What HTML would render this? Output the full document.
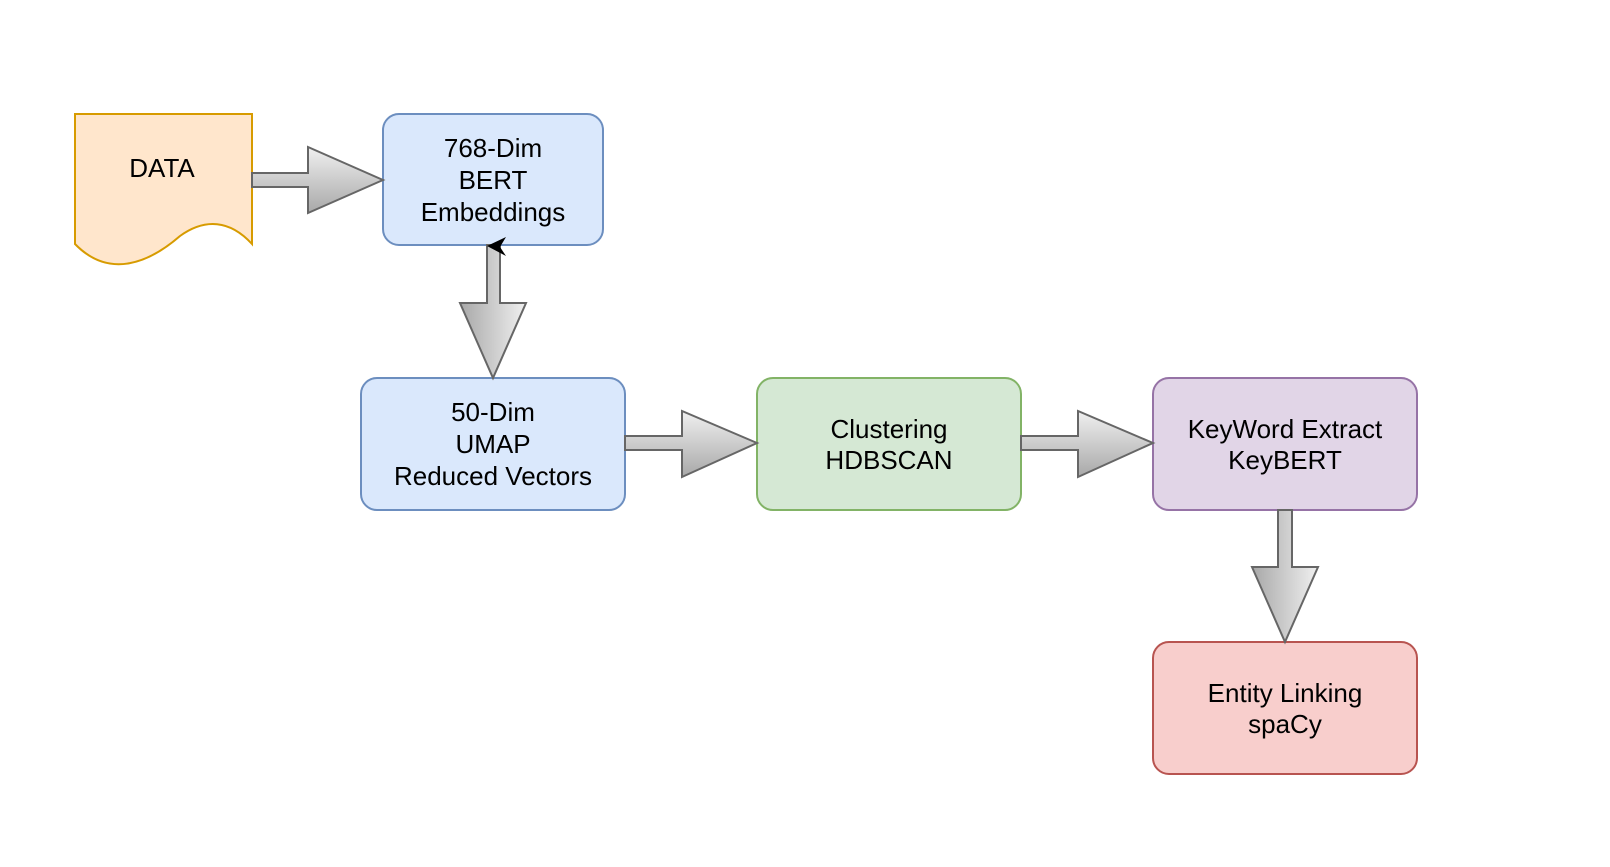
<!DOCTYPE html>
<html><head><meta charset="utf-8"><style>
html,body{margin:0;padding:0;background:#fff;}
svg{display:block;}
text{font-family:"Liberation Sans",sans-serif;font-size:26px;fill:#000;text-anchor:middle;}
</style></head><body>
<svg width="1610" height="867" viewBox="0 0 1610 867" xmlns="http://www.w3.org/2000/svg">
<defs>
<linearGradient id="gv" x1="0" y1="0" x2="0" y2="1"><stop offset="0" stop-color="#f0f0f0"/><stop offset="1" stop-color="#a8a8a8"/></linearGradient>
<linearGradient id="gh" x1="0" y1="0" x2="1" y2="0"><stop offset="0" stop-color="#a8a8a8"/><stop offset="1" stop-color="#f0f0f0"/></linearGradient>
</defs>
<path d="M75,114 H252 V244 C230,220 205,218 180,236 C150,262 110,280 75,244 Z" fill="#ffe6cc" stroke="#d79b00" stroke-width="2"/>
<text x="162" y="177">DATA</text>
<rect x="383" y="114" width="220" height="131" rx="16" fill="#dae8fc" stroke="#6c8ebf" stroke-width="2"/>
<text x="493" y="157">768-Dim</text><text x="493" y="189">BERT</text><text x="493" y="221">Embeddings</text>
<rect x="361" y="378" width="264" height="132" rx="16" fill="#dae8fc" stroke="#6c8ebf" stroke-width="2"/>
<text x="493" y="421">50-Dim</text><text x="493" y="453">UMAP</text><text x="493" y="485">Reduced Vectors</text>
<rect x="757" y="378" width="264" height="132" rx="16" fill="#d5e8d4" stroke="#82b366" stroke-width="2"/>
<text x="889" y="438">Clustering</text><text x="889" y="469">HDBSCAN</text>
<rect x="1153" y="378" width="264" height="132" rx="16" fill="#e1d5e7" stroke="#9673a6" stroke-width="2"/>
<text x="1285" y="438">KeyWord Extract</text><text x="1285" y="469">KeyBERT</text>
<rect x="1153" y="642" width="264" height="132" rx="16" fill="#f8cecc" stroke="#b85450" stroke-width="2"/>
<text x="1285" y="702">Entity Linking</text><text x="1285" y="733">spaCy</text>
<path d="M252,173 H308 V147 L383,180 L308,213 V187 H252 Z" fill="url(#gv)" stroke="#666" stroke-width="2"/>
<path d="M625,436 H682 V411 L757,443 L682,477 V450 H625 Z" fill="url(#gv)" stroke="#666" stroke-width="2"/>
<path d="M1021,436 H1078 V411 L1153,443 L1078,477 V450 H1021 Z" fill="url(#gv)" stroke="#666" stroke-width="2"/>
<path d="M487,245 V303 H460 L493,378 L526,303 H500 V245 Z" fill="url(#gh)" stroke="#666" stroke-width="2"/>
<path d="M1278,510 V567 H1252 L1285,642 L1318,567 H1292 V510 Z" fill="url(#gh)" stroke="#666" stroke-width="2"/>
<path d="M487,246 L506,237 L500,247 L506,256 Z" fill="#000"/>
</svg>
</body></html>
